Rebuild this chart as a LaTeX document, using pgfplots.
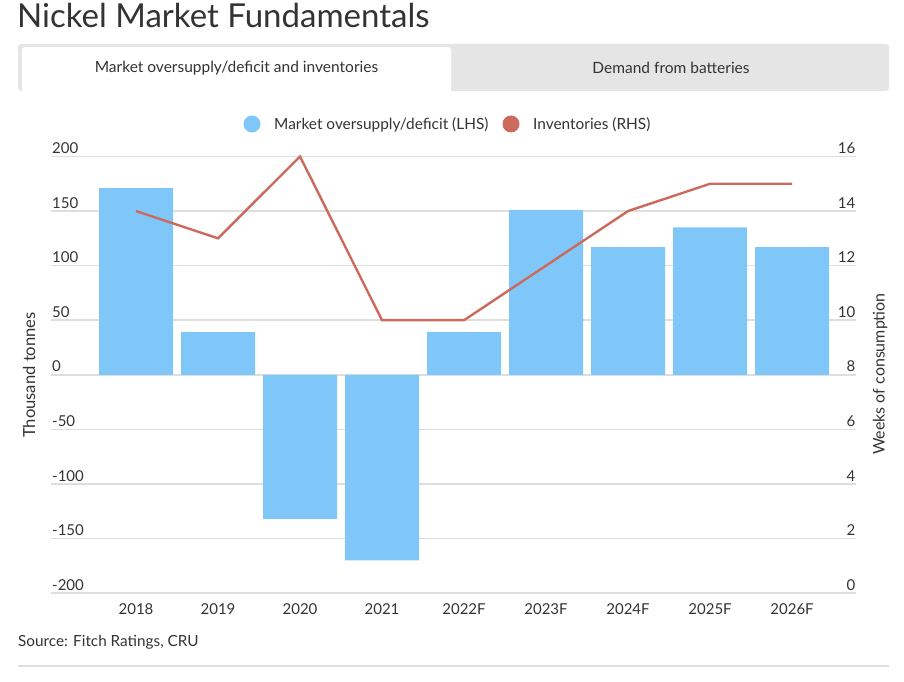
\documentclass[border=0pt]{standalone}
\usepackage{pgfplots}
\pgfplotsset{compat=1.18}
\usepackage{fontspec}
\setmainfont{Lato}

\definecolor{barblue}{RGB}{127,199,249}
\definecolor{invred}{RGB}{204,106,94}
\definecolor{txt}{RGB}{51,51,51}
\definecolor{gridgray}{RGB}{222,222,222}
\definecolor{tabgray}{RGB}{229,229,229}

% Market balance (thousand tonnes) and inventories (weeks of consumption)
\pgfplotstableread{
idx balance weeks
0   171  14
1    39  13
2  -132  16
3  -170  10
4    39  10
5   151  12
6   117  14
7   135  15
8   117  15
}\nickeldata

\begin{document}
\begin{tikzpicture}[x=1pt,y=1pt]
\path[use as bounding box] (0,0) rectangle (904,681);

% title
\node[anchor=base west, inner sep=0pt, text=txt, font=\fontsize{33}{36}\selectfont] at (17,653) {Nickel Market Fundamentals};

% tab strip
\fill[tabgray, rounded corners=3pt] (18,590) rectangle (889,637);
\fill[white, rounded corners=3pt] (22,590) rectangle (451,634);
\fill[white] (22,590) rectangle (451,600);
\node[text=txt, font=\fontsize{15.5}{17}\selectfont] at (236.5,613) {Market oversupply/deficit and inventories};
\node[text=txt, font=\fontsize{15.5}{17}\selectfont] at (671,613) {Demand from batteries};

% legend
\fill[barblue] (252,557) circle (8.5);
\node[anchor=west, inner sep=0pt, text=txt, font=\fontsize{15.4}{17}\selectfont] at (274,556) {Market oversupply/deficit (LHS)};
\fill[invred] (511,557) circle (8.5);
\node[anchor=west, inner sep=0pt, text=txt, font=\fontsize{15.4}{17}\selectfont] at (533,556) {Inventories (RHS)};

% axis titles
\node[rotate=90, text=txt, font=\fontsize{16.6}{18}\selectfont] at (29,306) {Thousand tonnes};
\node[rotate=90, text=txt, font=\fontsize{16}{18}\selectfont] at (880,307) {Weeks of consumption};

% left axis: bars
\begin{axis}[
  at={(51pt,88pt)}, anchor=south west,
  scale only axis, width=805pt, height=436.5pt,
  xmin=-1.0366, xmax=8.780,
  ymin=-200, ymax=200,
  axis line style={draw=none},
  tick style={draw=none},
  ytick={-200,-150,...,200},
  yticklabels={-200,-150,-100,-50,0,50,100,150,200},
  ymajorgrids,
  grid style={gridgray, line width=1.6pt},
  yticklabel style={anchor=south west, inner sep=0pt, xshift=1pt, yshift=2.5pt,
    text=txt, font=\fontsize{15}{17}\selectfont},
  xtick={0,...,8},
  xticklabels={2018,2019,2020,2021,2022F,2023F,2024F,2025F,2026F},
  xticklabel style={anchor=center, yshift=-16pt, text=txt, font=\fontsize{15}{17}\selectfont},
  clip=false,
]
\addplot[ybar, bar width=74pt, bar shift=0pt, fill=barblue, draw=none]
  table[x=idx, y=balance] {\nickeldata};
\end{axis}

% right axis: inventories line
\begin{axis}[
  at={(51pt,88pt)}, anchor=south west,
  scale only axis, width=805pt, height=436.5pt,
  xmin=-1.0366, xmax=8.780,
  ymin=0, ymax=16,
  axis line style={draw=none},
  tick style={draw=none},
  xtick=\empty,
  ytick={0,2,...,16},
  yticklabels={0,2,4,6,8,10,12,14,16},
  yticklabel pos=right,
  yticklabel style={anchor=south east, inner sep=0pt, xshift=-0.5pt, yshift=2.5pt,
    text=txt, font=\fontsize{15}{17}\selectfont},
  clip=false,
]
\addplot[invred, line width=2.4pt, line join=miter, mark=none]
  table[x=idx, y=weeks] {\nickeldata};
\end{axis}

% source and rule
\node[anchor=west, inner sep=0pt, text=txt, font=\fontsize{15.3}{17}\selectfont] at (18,39) {Source: Fitch Ratings, CRU};
\draw[gridgray, line width=1.3pt] (18,15) -- (889,15);
\end{tikzpicture}
\end{document}
